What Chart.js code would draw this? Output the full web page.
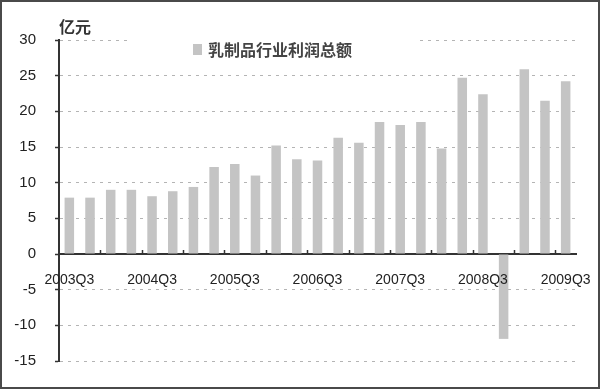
<!DOCTYPE html>
<html lang="zh">

<head>
  <meta charset="UTF-8">
  <title>乳制品行业利润总额</title>
  <style>
    body {
      margin: 0;
      background-color: #ffffff;
    }

    #wrap {
      position: relative;
      width: 600px;
      height: 389px;
      background: #ffffff;
    }

    #frame {
      position: absolute;
      left: 0;
      top: 0;
      width: 600px;
      height: 389px;
      box-sizing: border-box;
      border: 2px solid #4a4a4a;
      pointer-events: none;
    }

    .unit {
      position: absolute;
      left: 59px;
      top: 16px;
      font-family: 'Noto Sans CJK SC', sans-serif;
      font-size: 16px;
      font-weight: bold;
      color: #333;
      line-height: 20px;
    }

    #legend {
      position: absolute;
      left: 128px;
      top: 30px;
      width: 290px;
      height: 36px;
      background: #ffffff;
    }

    #legend .box {
      position: absolute;
      left: 65px;
      top: 14px;
      width: 9px;
      height: 11px;
      background: #c4c4c4;
    }

    #legend .txt {
      position: absolute;
      left: 80px;
      top: 8px;
      font-family: 'Noto Sans CJK SC', sans-serif;
      font-size: 16px;
      font-weight: bold;
      color: #444;
      line-height: 22px;
      white-space: nowrap;
    }
  </style>
</head>

<body>
  <div id="wrap">
    <canvas id="myChart"></canvas>
    <div class="unit">亿元</div>
    <div id="legend">
      <div class="box"></div>
      <div class="txt">乳制品行业利润总额</div>
    </div>
    <div id="frame"></div>
  </div>
  <script src="https://cdn.jsdelivr.net/npm/chart.js@4.4.1/dist/chart.umd.min.js"></script>
  <script>
    // quarters 2003Q3 .. 2009Q3
    const quarters = ['2003Q3', '2003Q4', '2004Q1', '2004Q2', '2004Q3', '2004Q4', '2005Q1', '2005Q2',
      '2005Q3', '2005Q4', '2006Q1', '2006Q2', '2006Q3', '2006Q4', '2007Q1', '2007Q2', '2007Q3',
      '2007Q4', '2008Q1', '2008Q2', '2008Q3', '2008Q4', '2009Q1', '2009Q2', '2009Q3']
    const profit = [7.9, 7.9, 9.0, 9.0, 8.1, 8.8, 9.4, 12.2, 12.6, 11.0, 15.2, 13.3, 13.1, 16.3, 15.6,
      18.5, 18.1, 18.5, 14.8, 24.7, 22.4, -11.9, 25.9, 21.5, 24.2]
    const yTicks = [-15, -10, -5, 0, 5, 10, 15, 20, 25, 30]
    const seriesName = '乳制品行业利润总额'

    // small tick marks standing up from the x axis, every two quarters
    const xTickMarks = {
      id: 'xTickMarks',
      afterDraw(chart) {
        const x = chart.scales.x
        const y0 = chart.scales.y.getPixelForValue(0)
        const c = chart.ctx
        c.save()
        c.strokeStyle = '#333'
        c.lineWidth = 1.5
        for (let i = 2; i < quarters.length; i += 2) {
          const px = Math.round((x.getPixelForValue(i - 1) + x.getPixelForValue(i)) / 2) + 0.5
          c.beginPath()
          c.moveTo(px, y0)
          c.lineTo(px, y0 - 4)
          c.stroke()
        }
        c.restore()
      }
    }

    const ctx = document.getElementById('myChart').getContext('2d')
    const myChart = new Chart(ctx, {
      type: 'bar',
      data: {
        labels: quarters,
        datasets: [{
          label: seriesName,
          data: profit,
          backgroundColor: '#c4c4c4',
          borderWidth: 0,
          categoryPercentage: 1,
          barPercentage: 0.46
        }]
      },
      plugins: [xTickMarks],
      options: {
        responsive: true,
        maintainAspectRatio: false,
        animation: false,
        layout: {
          padding: { top: 40, right: 24, bottom: 23, left: 0 }
        },
        plugins: {
          legend: { display: false },
          tooltip: { enabled: false }
        },
        scales: {
          x: {
            position: { y: 0 },
            afterFit: function (scale) {
              scale.paddingLeft = 0
              scale.paddingRight = 0
            },
            grid: { display: false, drawTicks: false },
            border: { display: true, color: '#333', width: 2 },
            ticks: {
              z: 1,
              autoSkip: false,
              maxRotation: 0,
              padding: 18,
              color: '#222',
              font: { family: 'Liberation Sans', size: 14 },
              callback: function (value, index) {
                return index % 4 === 0 ? quarters[index] : ''
              }
            }
          },
          y: {
            min: -15,
            max: 30,
            afterBuildTicks: function (scale) {
              scale.ticks = yTicks.map(v => ({ value: v }))
            },
            afterFit: function (scale) {
              scale.width = 59
            },
            grid: {
              color: '#b4b4b4',
              lineWidth: 1,
              tickLength: 4,
              tickColor: '#333',
              tickWidth: 1.5
            },
            border: { display: true, color: '#333', width: 2, dash: [3, 5] },
            ticks: {
              padding: 19,
              color: '#222',
              font: { family: 'Liberation Sans', size: 15 }
            }
          }
        }
      }
    })
  </script>
</body>

</html>
